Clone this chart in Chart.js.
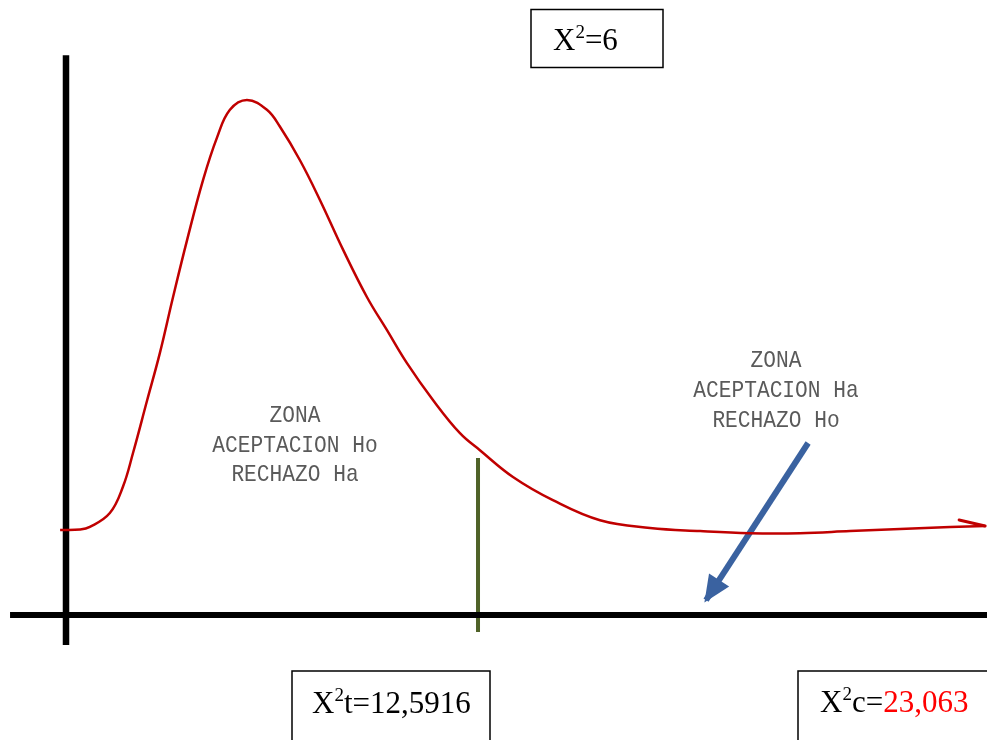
<!DOCTYPE html>
<html>
<head>
<meta charset="utf-8">
<script src="https://cdn.jsdelivr.net/npm/chart.js@4/dist/chart.umd.min.js"></script>
<style>
  html, body { margin: 0; padding: 0; background: #fff; }
  #wrap { width: 987px; height: 740px; }
</style>
</head>
<body>
<div id="wrap"><canvas id="chiChart" width="987" height="740"></canvas></div>
<script>
// --- DATA ---
const gradosLibertad = 6;
const chiTabla = 12.5916;
const chiCalc = 23.063;

// hand drawn density curve (x in chi units, y relative height, peak = 100)
const curvaX = [-0.18, 0.43, 0.73, 1.34, 1.74, 2.05, 2.48, 2.87, 3.27, 3.70, 4.19, 4.62, 5.01, 5.53,
  6.14, 6.54, 7.15, 7.76, 8.47, 9.20, 9.81, 10.42, 11.22, 12.04, 12.65, 13.66, 14.88, 16.32,
  17.85, 19.38, 20.90, 22.43, 23.96, 25.49, 27.02, 28.09];
const curvaY = [16.5, 16.6, 17.1, 19.8, 24.9, 31.5, 41.7, 50.9, 61.7, 72.8, 84.5, 92.8, 98.1, 100,
  98.1, 94.8, 88.3, 80.6, 70.9, 61.7, 55.3, 48.9, 41.7, 35.3, 32.0, 26.8, 22.3, 18.4,
  16.9, 16.3, 15.9, 15.9, 16.3, 16.7, 17.1, 17.3];

// axes lines
const ejeHorizX = [-1.71, 28.15];
const ejeHorizY = [0, 0];
const ejeVertX = [0, 0];
const ejeVertY = [-5.8, 108.7];

// critical value line
const lineaCritY = [-3.3, 30.5];

// pointer arrow (from label to rejection zone)
const flechaX = [22.68, 19.56];
const flechaY = [33.4, 2.9];

const zonaIzq = ['ZONA', 'ACEPTACION Ho', 'RECHAZO Ha'];
const zonaDer = ['ZONA', 'ACEPTACION Ha', 'RECHAZO Ho'];

// --- HELPERS ---
function toPoints(xs, ys) {
    return xs.map((x, i) => ({ x: x, y: ys[i] }));
}

function drawRich(ctx, x, y, parts) {
    let cx = x;
    parts.forEach(p => {
        ctx.font = p.size + 'px "Liberation Serif", "Times New Roman", serif';
        ctx.fillStyle = p.color || '#000';
        ctx.fillText(p.t, cx, y + (p.dy || 0));
        cx += ctx.measureText(p.t).width;
    });
}

function drawZone(ctx, lines, cx, baselines) {
    ctx.save();
    ctx.fillStyle = '#5a5a5a';
    ctx.textAlign = 'center';
    ctx.font = '20px "Liberation Mono", "Courier New", monospace';
    lines.forEach((l, i) => {
        ctx.save();
        ctx.translate(cx, baselines[i]);
        ctx.scale(1.06, 1.2);
        ctx.fillText(l, 0, 0);
        ctx.restore();
    });
    ctx.restore();
}

const decoPlugin = {
    id: 'deco',
    afterDatasetsDraw(chart) {
        const ctx = chart.ctx;

        // blue arrow head
        const pts = chart.getDatasetMeta(3).data;
        const a = pts[0], b = pts[1];
        const ang = Math.atan2(b.y - a.y, b.x - a.x);
        ctx.save();
        ctx.fillStyle = '#3a62a0';
        ctx.translate(b.x, b.y);
        ctx.rotate(ang);
        ctx.beginPath();
        ctx.moveTo(3, 0);
        ctx.lineTo(-24, -12);
        ctx.lineTo(-24, 12);
        ctx.closePath();
        ctx.fill();
        ctx.restore();

        // red curve arrow barb
        const cp = chart.getDatasetMeta(0).data;
        const tip = cp[cp.length - 1];
        ctx.save();
        ctx.strokeStyle = '#c00000';
        ctx.lineWidth = 3;
        ctx.lineCap = 'round';
        ctx.beginPath();
        ctx.moveTo(tip.x, tip.y);
        ctx.lineTo(tip.x - 26, tip.y - 6);
        ctx.stroke();
        ctx.restore();

        // zone labels
        drawZone(ctx, zonaIzq, 295, [422, 452, 481]);
        drawZone(ctx, zonaDer, 776, [367, 397, 427]);

        // boxes
        ctx.save();
        ctx.strokeStyle = '#000';
        ctx.lineWidth = 1.5;
        ctx.strokeRect(531, 9.5, 132, 58);
        ctx.strokeRect(292, 671, 198, 80);
        ctx.strokeRect(798, 671, 200, 80);
        ctx.textBaseline = 'alphabetic';
        drawRich(ctx, 553, 50, [
            { t: 'X', size: 31 }, { t: '2', size: 19, dy: -12 }, { t: '=' + gradosLibertad, size: 31 }
        ]);
        drawRich(ctx, 312, 713, [
            { t: 'X', size: 31 }, { t: '2', size: 19, dy: -12 },
            { t: 't=' + String(chiTabla).replace('.', ','), size: 31 }
        ]);
        drawRich(ctx, 820, 712, [
            { t: 'X', size: 31 }, { t: '2', size: 19, dy: -12 }, { t: 'c=', size: 31 },
            { t: String(chiCalc).replace('.', ','), size: 31, color: '#ff0000' }
        ]);
        ctx.restore();
    }
};

// --- CHART ---
const ctx = document.getElementById('chiChart').getContext('2d');
const chiChart = new Chart(ctx, {
    type: 'scatter',
    data: {
        datasets: [
            {
                label: 'curva',
                data: toPoints(curvaX, curvaY),
                showLine: true,
                borderColor: '#c00000',
                borderWidth: 2.5,
                pointRadius: 0,
                tension: 0.4
            },
            {
                label: 'eje x',
                data: toPoints(ejeHorizX, ejeHorizY),
                showLine: true,
                borderColor: '#000',
                borderWidth: 6,
                pointRadius: 0
            },
            {
                label: 'eje y',
                data: toPoints(ejeVertX, ejeVertY),
                showLine: true,
                borderColor: '#000',
                borderWidth: 6.5,
                pointRadius: 0
            },
            {
                label: 'flecha',
                data: toPoints(flechaX, flechaY),
                showLine: true,
                borderColor: '#3a62a0',
                borderWidth: 6,
                pointRadius: 0
            },
            {
                label: 'critico',
                data: toPoints([chiTabla, chiTabla], lineaCritY),
                showLine: true,
                borderColor: '#4f6228',
                borderWidth: 4,
                pointRadius: 0
            }
        ]
    },
    options: {
        responsive: false,
        animation: false,
        devicePixelRatio: 1,
        layout: { padding: 0 },
        plugins: {
            legend: { display: false },
            tooltip: { enabled: false }
        },
        scales: {
            x: { type: 'linear', display: false, min: -2.017, max: 28.147 },
            y: { type: 'linear', display: false, min: -24.27, max: 119.42 }
        }
    },
    plugins: [decoPlugin]
});
</script>
</body>
</html>
